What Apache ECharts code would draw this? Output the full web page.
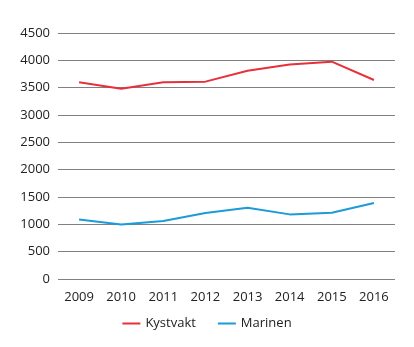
<!DOCTYPE html>
<html><head><meta charset="utf-8">
<script src="https://cdn.jsdelivr.net/npm/echarts@6/dist/echarts.min.js"></script>
<style>html,body{margin:0;padding:0;background:#fff}#c{width:414px;height:347px}</style>
</head><body><div id="c"></div>
<script>
const categories = ['2009','2010','2011','2012','2013','2014','2015','2016'];
const kystvakt = [3600, 3480, 3600, 3610, 3810, 3925, 3975, 3640];
const marinen = [1090, 995, 1060, 1207, 1304, 1182, 1213, 1390];
const chart = echarts.init(document.getElementById('c'));
const font = '"Open Sans", sans-serif';
chart.setOption({
  animation: false,
  grid: {left: 58, right: 19, top: 33, bottom: 68},
  legend: {
    bottom: 12, left: 'center', itemWidth: 18, itemHeight: 2, itemGap: 22,
    icon: 'rect',
    textStyle: {fontFamily: font, fontSize: 13, color: '#222'},
    data: ['Kystvakt', 'Marinen']
  },
  xAxis: {
    type: 'category', data: categories, boundaryGap: true,
    axisLine: {show: false}, axisTick: {show: false},
    axisLabel: {fontFamily: font, fontSize: 13, color: '#222', margin: 12}
  },
  yAxis: {
    type: 'value', min: 0, max: 4500, interval: 500,
    axisLine: {show: false}, axisTick: {show: false},
    splitLine: {lineStyle: {color: '#808080', width: 1}},
    axisLabel: {fontFamily: font, fontSize: 13, color: '#222', margin: 8,
      formatter: function (v) { return String(v); }}
  },
  series: [
    {name: 'Kystvakt', type: 'line', data: kystvakt, symbol: 'none',
     lineStyle: {color: '#e8303a', width: 2}, itemStyle: {color: '#e8303a'}},
    {name: 'Marinen', type: 'line', data: marinen, symbol: 'none',
     lineStyle: {color: '#1b9bd7', width: 2}, itemStyle: {color: '#1b9bd7'}}
  ]
});
</script></body></html>
